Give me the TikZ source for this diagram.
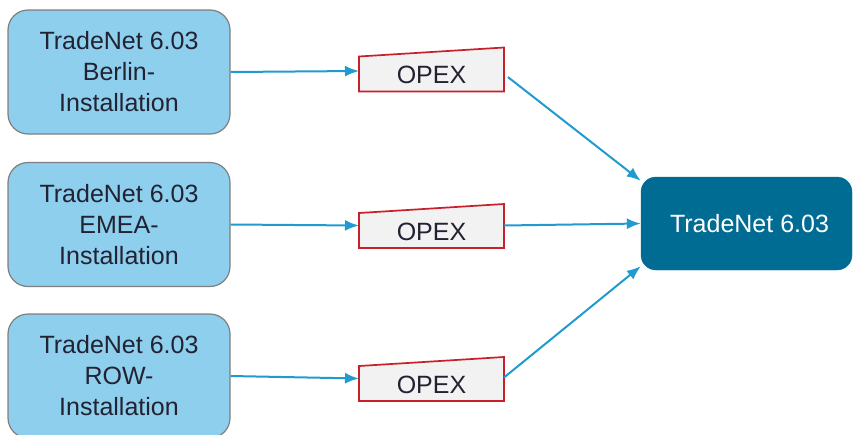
\documentclass[tikz,border=0pt]{standalone}
\usepackage{fontspec}
\setmainfont{Liberation Sans}
\usetikzlibrary{arrows.meta}
\definecolor{instblue}{HTML}{8DCFEC}
\definecolor{instgray}{HTML}{7F7F7F}
\definecolor{netblue}{HTML}{006C93}
\definecolor{flowblue}{HTML}{1F9BCF}
\definecolor{opexred}{HTML}{C8202A}
\definecolor{opexfill}{HTML}{F2F2F2}
\definecolor{inktext}{HTML}{222233}
\begin{document}
\begin{tikzpicture}[x=1pt,y=1pt]
      \tikzstyle{install}=[draw=instgray, fill=instblue, line width=1.2pt, rounded corners=20pt, minimum width=222pt, minimum height=124pt, align=center, text=inktext, font=\fontsize{25}{31}\selectfont]
      \tikzstyle{opex}=[inner sep=0pt, outer sep=0pt, minimum width=145pt, minimum height=35pt, text=inktext, font=\fontsize{25}{30}\selectfont]
      \tikzstyle{opexline}=[draw=opexred, fill=opexfill, line width=1.7pt]
      \tikzstyle{flow}=[draw=flowblue, line width=2pt, -{Latex[length=14pt,width=11pt]}]
      \useasboundingbox (0,0) rectangle (853,-434);
      \node [install] (berlin) at (119,-72) {TradeNet 6.03\\Berlin-\\Installation};
      \node [install] (emea) at (119,-224.5) {TradeNet 6.03\\EMEA-\\Installation};
      \node [install] (row) at (119,-376) {TradeNet 6.03\\ROW-\\Installation};
      \node [draw=netblue, fill=netblue, rounded corners=15pt, minimum width=211pt, minimum height=93pt, text=white, font=\fontsize{25}{30}\selectfont] (net) at (746.5,-223.5) {\hspace*{6pt}TradeNet 6.03};
      \foreach \name/\y in {opexb/-74, opexe/-230.5, opexr/-383.5} {
        \node [opex] (\name) at (431.5,\y) {};
        \draw [opexline] (\name.south west) -- (\name.south east) -- ([yshift=9pt]\name.north east) -- (\name.north west) -- cycle;
        \node [opex] at ([yshift=-1pt]\name) {OPEX};
      }
      \draw [flow] (berlin.east) -- ([yshift=3pt]opexb.west);
      \draw [flow] (emea.east) -- ([yshift=5pt]opexe.west);
      \draw [flow] (row.east) -- ([yshift=5pt]opexr.west);
      \draw [flow, shorten <=5pt] (opexb.east) -- (net.158);
      \draw [flow] ([yshift=5pt]opexe.east) -- (net.west);
      \draw [flow] ([yshift=6pt]opexr.east) -- (net.202);
\end{tikzpicture}
\end{document}
